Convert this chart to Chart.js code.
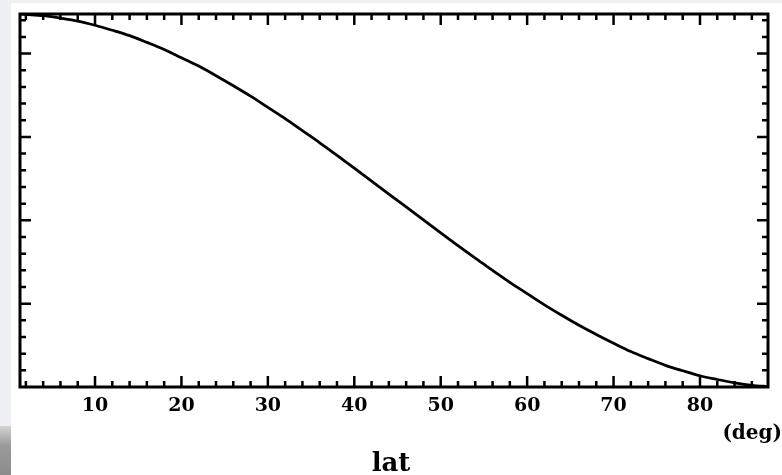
<!DOCTYPE html>
<html>
<head>
<meta charset="utf-8">
<script src="https://cdn.jsdelivr.net/npm/chart.js@4.4.1/dist/chart.umd.min.js"></script>
<style>
  html, body { margin: 0; padding: 0; }
  body { width: 782px; height: 475px; position: relative; overflow: hidden; background: #eef0f4; }
  .paper { position: absolute; left: 11px; top: 3px; right: 0; bottom: 0; background: #fff; }
  .shade { position: absolute; left: 0; top: 426px; width: 11px; height: 49px;
           background: linear-gradient(#d4d4d4, #9a9a9a 40%, #8c8c8c); }
  .chartBox { position: absolute; left: 0; top: 0; width: 782px; height: 475px; }
</style>
</head>
<body>
<div class="paper"></div>
<div class="shade"></div>
<div class="chartBox"><canvas id="chart"></canvas></div>
<script>
// latitude (deg) and curve value
const lat = [1.3, 2, 4, 6, 8, 10, 12, 14, 16, 18, 20, 22, 24, 26, 28, 30, 32, 34, 36, 38, 40,
             42, 44, 46, 48, 50, 52, 54, 56, 58, 60, 62, 64, 66, 68, 70, 72, 74, 76, 78, 80,
             82, 84, 86, 88];
const values = [0.895, 0.894, 0.891, 0.885, 0.878, 0.868, 0.856, 0.843, 0.827, 0.810, 0.790,
                0.770, 0.747, 0.723, 0.698, 0.671, 0.644, 0.615, 0.586, 0.556, 0.525,
                0.494, 0.463, 0.432, 0.401, 0.370, 0.339, 0.309, 0.280, 0.251, 0.224,
                0.197, 0.172, 0.148, 0.126, 0.105, 0.085, 0.068, 0.052, 0.039, 0.027,
                0.018, 0.010, 0.004, 0.001];

const xLabels = [10, 20, 30, 40, 50, 60, 70, 80];
const xMinor = [2, 4, 6, 8, 12, 14, 16, 18, 22, 24, 26, 28, 32, 34, 36, 38, 42, 44, 46, 48,
                52, 54, 56, 58, 62, 64, 66, 68, 72, 74, 76, 78, 82, 84, 86];
const yMajor = [0.2, 0.4, 0.6, 0.8];
const yMinor = [0.04, 0.08, 0.12, 0.16, 0.24, 0.28, 0.32, 0.36, 0.44, 0.48, 0.52, 0.56,
                0.64, 0.68, 0.72, 0.76, 0.84, 0.88];

const serif = "'DejaVu Serif', serif";

// frame, inward ticks on all four sides, and the axis texts
const frameTicks = {
    id: 'frameTicks',
    afterDatasetsDraw(chart) {
        const {ctx, chartArea: a, scales: {x, y}} = chart;
        ctx.save();
        ctx.strokeStyle = '#000';
        ctx.lineWidth = 2.5;
        ctx.beginPath();
        const xTick = (v, len) => {
            const px = x.getPixelForValue(v);
            ctx.moveTo(px, a.bottom); ctx.lineTo(px, a.bottom - len);
            ctx.moveTo(px, a.top); ctx.lineTo(px, a.top + len);
        };
        const yTick = (v, len) => {
            const py = y.getPixelForValue(v);
            ctx.moveTo(a.left, py); ctx.lineTo(a.left + len, py);
            ctx.moveTo(a.right, py); ctx.lineTo(a.right - len, py);
        };
        xLabels.forEach(v => xTick(v, 11));
        xMinor.forEach(v => xTick(v, 6));
        yMajor.forEach(v => yTick(v, 11));
        yMinor.forEach(v => yTick(v, 6));
        ctx.stroke();

        ctx.lineWidth = 3;
        ctx.strokeRect(a.left, a.top, a.right - a.left, a.bottom - a.top);

        ctx.fillStyle = '#000';
        ctx.font = 'bold 20px ' + serif;
        ctx.textAlign = 'right';
        ctx.textBaseline = 'alphabetic';
        ctx.fillText('(deg)', 782, 439);

        ctx.font = 'bold 26px ' + serif;
        ctx.textAlign = 'center';
        ctx.fillText('lat', (a.left + a.right) / 2 - 3, 471);
        ctx.restore();
    }
};

new Chart(document.getElementById('chart'), {
    type: 'line',
    data: {
        datasets: [{
            data: lat.map((v, i) => ({x: v, y: values[i]})),
            borderColor: '#000',
            borderWidth: 2.8,
            pointRadius: 0,
            cubicInterpolationMode: 'monotone',
            fill: false
        }]
    },
    options: {
        responsive: true,
        maintainAspectRatio: false,
        animation: false,
        layout: {padding: {left: 20, top: 14, right: 14, bottom: 0}},
        plugins: {legend: {display: false}, tooltip: {enabled: false}},
        scales: {
            x: {
                type: 'linear',
                min: 1.32,
                max: 87.87,
                afterBuildTicks: s => { s.ticks = xLabels.map(v => ({value: v})); },
                afterFit: s => { s.height = 88; },
                grid: {display: false, drawTicks: false},
                border: {display: false},
                ticks: {
                    color: '#000',
                    padding: 8,
                    maxRotation: 0,
                    autoSkip: false,
                    font: {family: serif, size: 19, weight: 'bold'}
                }
            },
            y: {
                display: false,
                min: 0,
                max: 0.895
            }
        }
    },
    plugins: [frameTicks]
});
</script>
</body>
</html>
